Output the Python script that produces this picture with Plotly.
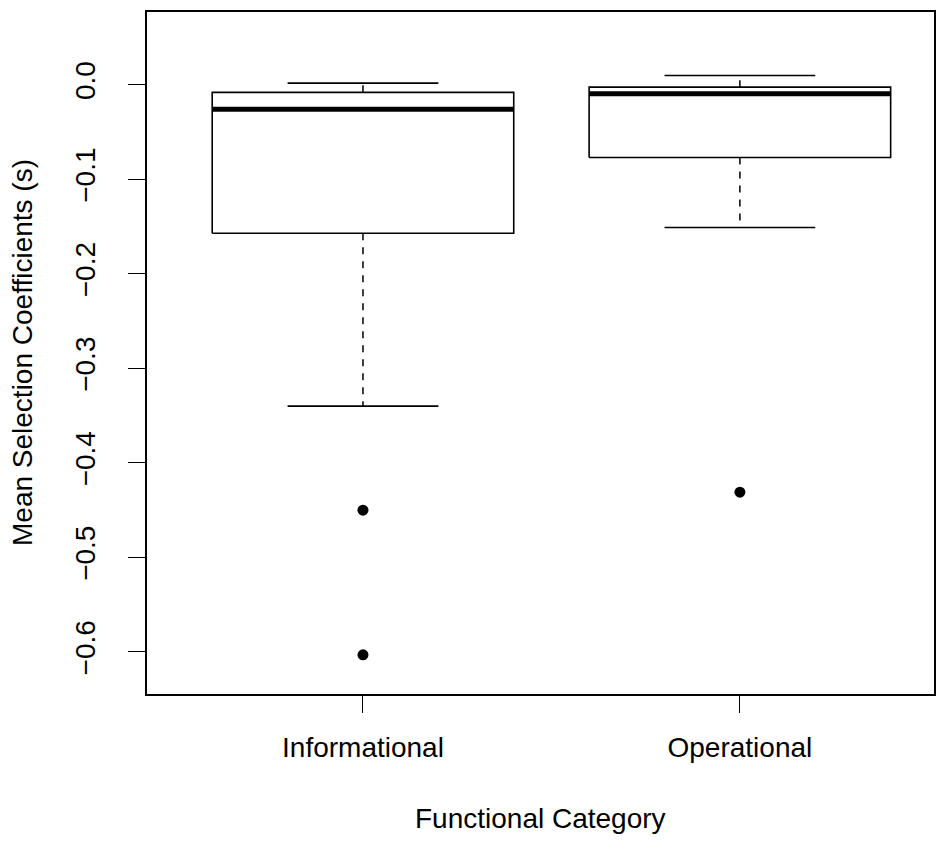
import plotly.graph_objects as go

# ---- data ----
categories = ["Informational", "Operational"]
lower_whisker = [-0.340, -0.151]
q1 = [-0.157, -0.077]
median = [-0.026, -0.0095]
q3 = [-0.008, -0.0025]
upper_whisker = [0.0018, 0.0098]
outliers = [[-0.450, -0.603], [-0.431]]

y_ticks = [0.0, -0.1, -0.2, -0.3, -0.4, -0.5, -0.6]
y_ticktext = ["0.0", "\u22120.1", "\u22120.2", "\u22120.3", "\u22120.4", "\u22120.5", "\u22120.6"]

FONT = "Liberation Sans, Arial, Helvetica, sans-serif"
FS = 28
fig = go.Figure()

half_box = 0.4
half_cap = 0.2
for i, cat in enumerate(categories):
    xc = i + 1
    # box
    fig.add_trace(go.Scatter(
        x=[xc - half_box, xc + half_box, xc + half_box, xc - half_box, xc - half_box],
        y=[q1[i], q1[i], q3[i], q3[i], q1[i]],
        mode="lines", line=dict(color="black", width=1.6), hoverinfo="skip", showlegend=False))
    # median
    fig.add_trace(go.Scatter(
        x=[xc - half_box, xc + half_box], y=[median[i], median[i]],
        mode="lines", line=dict(color="black", width=5), hoverinfo="skip", showlegend=False))
    # whiskers (dashed)
    fig.add_trace(go.Scatter(
        x=[xc, xc], y=[q3[i], upper_whisker[i]],
        mode="lines", line=dict(color="black", width=1.5, dash="7px,7px"), hoverinfo="skip", showlegend=False))
    fig.add_trace(go.Scatter(
        x=[xc, xc], y=[q1[i], lower_whisker[i]],
        mode="lines", line=dict(color="black", width=1.5, dash="7px,7px"), hoverinfo="skip", showlegend=False))
    # caps
    for w in (upper_whisker[i], lower_whisker[i]):
        fig.add_trace(go.Scatter(
            x=[xc - half_cap, xc + half_cap], y=[w, w],
            mode="lines", line=dict(color="black", width=1.6), hoverinfo="skip", showlegend=False))
    # outliers
    fig.add_trace(go.Scatter(
        x=[xc] * len(outliers[i]), y=outliers[i], mode="markers",
        marker=dict(color="black", size=11), hoverinfo="skip", showlegend=False))

fig.update_layout(
    width=949, height=861,
    margin=dict(l=147, r=15, t=10, b=167),
    paper_bgcolor="white", plot_bgcolor="white",
    font=dict(family=FONT, size=FS, color="black"),
    showlegend=False,
    xaxis=dict(
        range=[0.427, 2.515], tickmode="array", tickvals=[1, 2], ticktext=categories,
        showgrid=False, zeroline=False, showline=True, mirror=True,
        linecolor="black", linewidth=1.6, ticks="outside", ticklen=17, tickwidth=1.3,
        tickcolor="black", ticklabelstandoff=11, tickfont=dict(size=FS),
    ),
    yaxis=dict(
        range=[-0.6445, 0.077], tickmode="array", tickvals=y_ticks, ticktext=y_ticktext,
        showgrid=False, zeroline=False, showline=True, mirror=True,
        linecolor="black", linewidth=1.6, ticks="outside", ticklen=17, tickwidth=1.3,
        tickcolor="black", tickangle=-90, ticklabelstandoff=22, tickfont=dict(size=FS),
    ),
    annotations=[
        dict(text="Functional Category", xref="paper", yref="paper", x=0.5, y=0,
             xanchor="center", yanchor="middle", yshift=-124, showarrow=False,
             font=dict(size=FS)),
        dict(text="Mean Selection Coefficients (s)", xref="paper", yref="paper", x=0, y=0.5,
             xanchor="center", yanchor="middle", xshift=-125, textangle=-90, showarrow=False,
             font=dict(size=FS)),
    ],
)

fig.write_html("out.html")
